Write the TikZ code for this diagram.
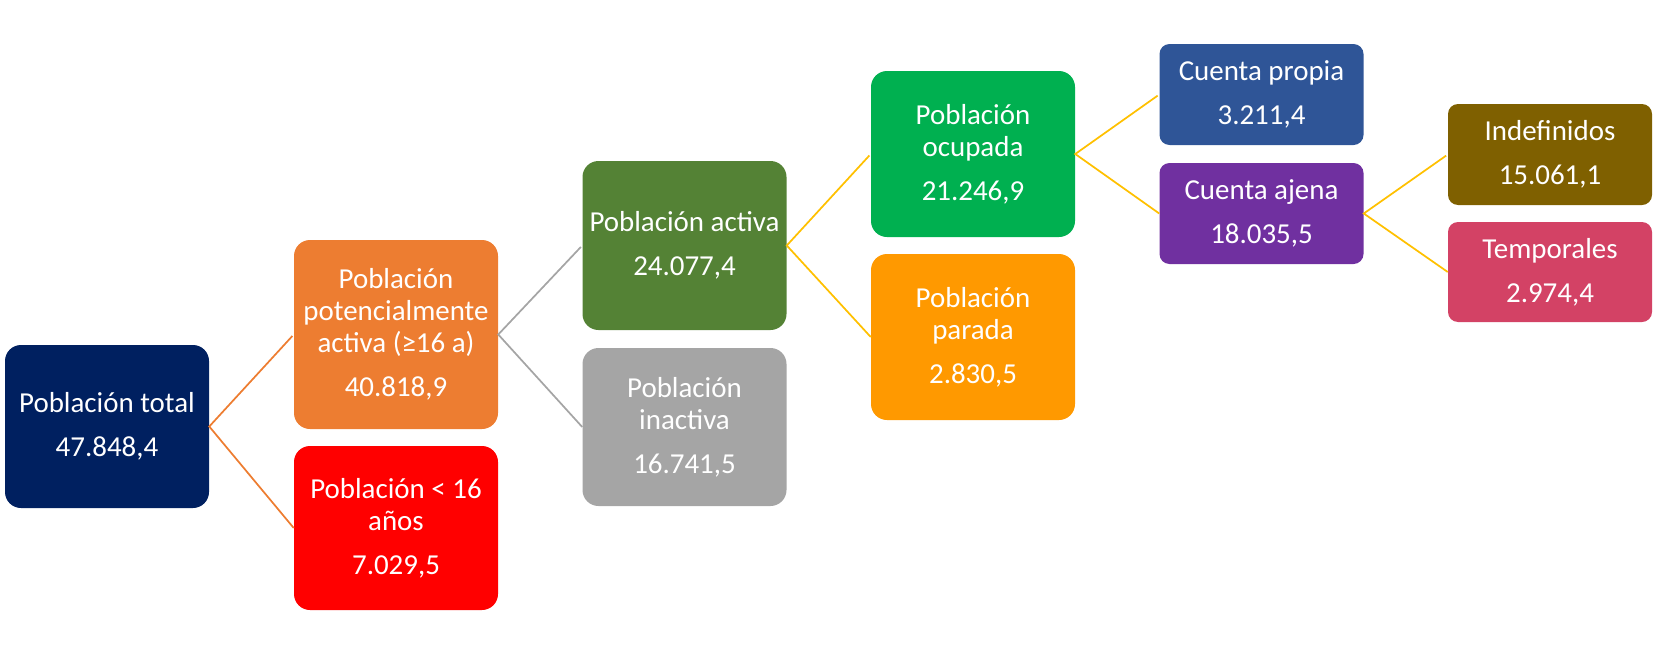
\documentclass[tikz,border=0pt]{standalone}
\usepackage{fontspec}
\setmainfont{Carlito}
\definecolor{cnavy}{HTML}{002060}
\definecolor{corange}{HTML}{ED7D31}
\definecolor{cred}{HTML}{FF0000}
\definecolor{cgreen}{HTML}{548235}
\definecolor{cgray}{HTML}{A5A5A5}
\definecolor{cbright}{HTML}{00B050}
\definecolor{camber}{HTML}{FF9900}
\definecolor{cblue}{HTML}{2F5597}
\definecolor{cpurple}{HTML}{7030A0}
\definecolor{colive}{HTML}{7F6000}
\definecolor{crose}{HTML}{D34265}
\definecolor{cyellow}{HTML}{FFC000}
\begin{document}
\begin{tikzpicture}[x=0.75pt,y=-0.75pt]
\tikzset{
  box/.style={fill=#1, text=white, align=center, inner sep=0pt,
    minimum width=153pt, font=\fontsize{21.7}{23.8}\selectfont},
  big/.style={rounded corners=12pt},
  small/.style={rounded corners=7.5pt},
  conn/.style={draw=#1, line width=1.3pt, shorten <=1.5pt},
}
\useasboundingbox (0,0) rectangle (1655,657);
\node[box=cnavy, big, minimum height=122.25pt] (tot) at (107,426.5) {Población total\\[9.2pt]47.848,4};
\node[box=corange, big, minimum height=141.75pt] (pot) at (396,334.5) {Población\\potencialmente\\activa (≥16 a)\\[9.2pt]40.818,9};
\node[box=cred, big, minimum height=123pt] (men) at (396,528) {Población < 16\\años\\[9.2pt]7.029,5};
\node[box=cgreen, big, minimum height=126.75pt] (act) at (684.5,245.5) {Población activa\\[9.2pt]24.077,4};
\node[box=cgray, big, minimum height=118.5pt] (ina) at (684.5,427) {Población\\inactiva\\[9.2pt]16.741,5};
\node[box=cbright, big, minimum height=124.5pt] (ocu) at (973,154) {Población\\ocupada\\[9.2pt]21.246,9};
\node[box=camber, big, minimum height=124.5pt] (par) at (973,337) {Población\\parada\\[9.2pt]2.830,5};
\node[box=cblue, small, minimum height=75.75pt] (pro) at (1261.5,94.5) {Cuenta propia\\[9.2pt]3.211,4};
\node[box=cpurple, small, minimum height=75.75pt] (aje) at (1261.5,213.5) {Cuenta ajena\\[9.2pt]18.035,5};
\node[box=colive, small, minimum height=75.75pt] (ind) at (1550,154.5) {Indefinidos\\[9.2pt]15.061,1};
\node[box=crose, small, minimum height=75pt] (tem) at (1550,272) {Temporales\\[9.2pt]2.974,4};
\draw[conn=corange] (pot.west) -- (tot.east) -- (men.west);
\draw[conn=cgray] (act.west) -- (pot.east) -- (ina.west);
\draw[conn=cyellow] (ocu.west) -- (act.east) -- (par.west);
\draw[conn=cyellow] (pro.west) -- (ocu.east) -- (aje.west);
\draw[conn=cyellow] (ind.west) -- (aje.east) -- (tem.west);
\end{tikzpicture}
\end{document}
